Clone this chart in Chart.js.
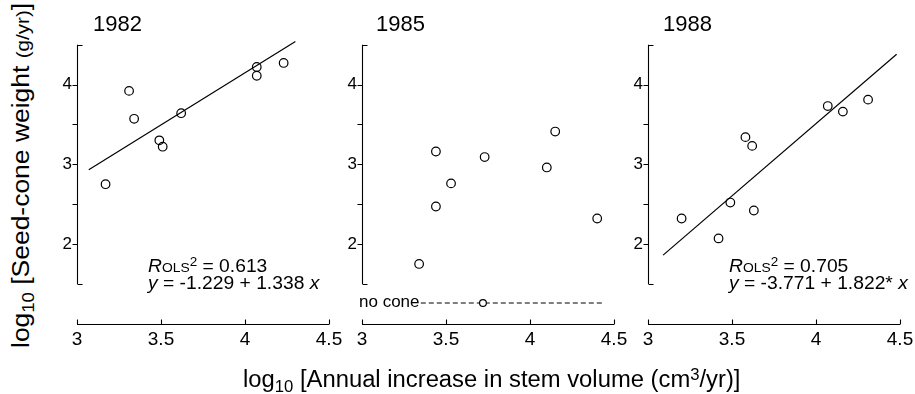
<!DOCTYPE html>
<html>
<head>
<meta charset="utf-8">
<script src="https://cdn.jsdelivr.net/npm/chart.js@4.4.0/dist/chart.umd.min.js"></script>
<style>
  body { margin: 0; background: #fff; width: 915px; height: 394px; overflow: hidden; position: relative;
         font-family: "Liberation Sans", Arial, Helvetica, sans-serif; color: #000; }
  canvas { position: absolute; top: 0; }
  .txt { position: absolute; white-space: nowrap; line-height: 1; }
  .year { font-size: 22px; top: 13px; }
  .fit { font-size: 18px; line-height: 15px; top: 259px; transform: scaleX(1.07); transform-origin: left top; }
  .fit .sm { font-size: 0.72em; }
  .fit sup { font-size: 0.7em; vertical-align: baseline; position: relative; top: -0.5em; }
  #xtitle { font-size: 23px; left: 243px; top: 368px; transform-origin: left top; transform: scaleX(1.035); }
  #ytitle { font-size: 23px; left: 10px; top: 348px; transform-origin: left top; transform: rotate(-90deg) scaleX(1.15); }
  .sub { font-size: 0.7em; vertical-align: baseline; position: relative; top: 0.3em; }
  .sup { font-size: 0.7em; vertical-align: baseline; position: relative; top: -0.45em; }
  #nocone { font-size: 17px; left: 359px; top: 293px; }
</style>
</head>
<body>
<canvas id="c1982" width="312" height="394" style="left:37px"></canvas>
<canvas id="c1985" width="312" height="394" style="left:322px"></canvas>
<canvas id="c1988" width="312" height="394" style="left:608px"></canvas>

<div class="txt year" style="left:93px">1982</div>
<div class="txt year" style="left:376px">1985</div>
<div class="txt year" style="left:663px">1988</div>

<div class="txt fit" style="left:148px"><i>R</i><span class="sm">OLS</span><sup>2</sup> = 0.613<br><i>y</i> = -1.229 + 1.338 <i>x</i></div>
<div class="txt fit" style="left:729px"><i>R</i><span class="sm">OLS</span><sup>2</sup> = 0.705<br><i>y</i> = -3.771 + 1.822* <i>x</i></div>
<div class="txt" id="nocone">no cone</div>

<div class="txt" id="ytitle">log<span class="sub">10</span> [Seed-cone weight <span style="font-size:0.78em">(g/yr)</span>]</div>
<div class="txt" id="xtitle">log<span class="sub">10</span> [Annual increase in stem volume (cm<span class="sup">3</span>/yr)]</div>

<script>
// 目盛り
const xTicks = [3, 3.5, 4, 4.5];
const yTicks = [2, 3, 4];
const yTickMarks = [1.5, 2, 2.5, 3, 3.5, 4, 4.5];

// 1982
const stem1982 = [3.17, 3.31, 3.34, 3.49, 3.51, 3.62, 4.07, 4.07, 4.23];
const cone1982 = [2.75, 3.92, 3.57, 3.30, 3.22, 3.64, 4.22, 4.11, 4.27];
const fitX1982 = [3.07, 4.30];
const fitY1982 = [2.93, 4.54];

// 1985 (回帰線なし)
const stem1985 = [3.34, 3.44, 3.44, 3.53, 3.73, 4.10, 4.15, 4.40];
const cone1985 = [1.75, 3.16, 2.47, 2.76, 3.09, 2.96, 3.41, 2.32];
const noConeStem = [3.72];
const noConeLevel = 1.26;
const noConeLineX = [3.35, 4.44];

// 1988
const stem1988 = [3.20, 3.42, 3.49, 3.58, 3.62, 3.63, 4.07, 4.16, 4.31];
const cone1988 = [2.32, 2.07, 2.52, 3.34, 3.23, 2.42, 3.73, 3.66, 3.81];
const fitX1988 = [3.09, 4.48];
const fitY1988 = [1.86, 4.38];

const FONT = '"Liberation Sans", Arial, Helvetica, sans-serif';

function toPoints(xs, ys) {
  return xs.map((x, i) => ({ x: x, y: ys[i] }));
}

// 軸線を描くプラグイン（範囲フレーム風）
const frameAxes = {
  id: 'frameAxes',
  afterDraw(chart) {
    const ctx = chart.ctx;
    const x = chart.scales.x, y = chart.scales.y;
    const t = 5;
    ctx.save();
    ctx.strokeStyle = '#000';
    ctx.lineWidth = 1.1;
    // y軸
    const ax = Math.round(x.left) + 0.5;
    const yTop = y.getPixelForValue(yTickMarks[yTickMarks.length - 1]);
    const yBot = y.getPixelForValue(yTickMarks[0]);
    ctx.beginPath();
    ctx.moveTo(ax, yTop);
    ctx.lineTo(ax, yBot);
    yTickMarks.forEach(function (v, i) {
      const py = Math.round(y.getPixelForValue(v)) + 0.5;
      const end = (i === 0 || i === yTickMarks.length - 1);
      ctx.moveTo(ax, py);
      ctx.lineTo(end ? ax + t : ax - t, py);
    });
    ctx.stroke();
    // x軸
    const ay = Math.round(y.bottom) + 0.5;
    ctx.beginPath();
    ctx.moveTo(x.getPixelForValue(xTicks[0]), ay);
    ctx.lineTo(x.getPixelForValue(xTicks[xTicks.length - 1]), ay);
    xTicks.forEach(function (v) {
      const px = Math.round(x.getPixelForValue(v)) + 0.5;
      ctx.moveTo(px, ay);
      ctx.lineTo(px, ay - t);
    });
    ctx.stroke();
    ctx.restore();
  }
};

function makePanel(id, datasets) {
  new Chart(document.getElementById(id), {
    type: 'scatter',
    data: { datasets: datasets },
    options: {
      responsive: false,
      animation: false,
      layout: { padding: { top: 36.65, bottom: 40.25, left: 0, right: 20 } },
      plugins: { legend: { display: false }, tooltip: { enabled: false } },
      scales: {
        x: {
          type: 'linear', min: 3, max: 4.5,
          grid: { display: false, drawTicks: false },
          border: { display: false },
          afterBuildTicks: function (s) { s.ticks = xTicks.map(v => ({ value: v })); },
          afterFit: function (s) { s.height = 30; },
          ticks: { color: '#000', padding: 5, maxRotation: 0, autoSkip: false,
                   font: { family: FONT, size: 19 }, callback: v => String(v) }
        },
        y: {
          type: 'linear', min: 1.0, max: 4.6,
          grid: { display: false, drawTicks: false },
          border: { display: false },
          afterBuildTicks: function (s) { s.ticks = yTicks.map(v => ({ value: v })); },
          afterFit: function (s) { s.width = 40; },
          ticks: { color: '#000', padding: 5, font: { family: FONT, size: 17 }, callback: v => String(v) }
        }
      }
    },
    plugins: [frameAxes]
  });
}

function pointSet(xs, ys, r, fill) {
  return {
    data: toPoints(xs, ys), order: 0, showLine: false,
    pointRadius: r, pointHoverRadius: r, pointBorderWidth: 1.2,
    pointBorderColor: '#000', pointBackgroundColor: fill
  };
}

function lineSet(xs, ys, dash) {
  return {
    data: toPoints(xs, ys), order: 1, showLine: true, pointRadius: 0,
    borderColor: '#000', borderWidth: 1.2, borderDash: dash || [], fill: false
  };
}

makePanel('c1982', [
  pointSet(stem1982, cone1982, 4.3, 'rgba(255,255,255,0)'),
  lineSet(fitX1982, fitY1982)
]);

makePanel('c1985', [
  pointSet(stem1985, cone1985, 4.3, 'rgba(255,255,255,0)'),
  pointSet(noConeStem, noConeStem.map(() => noConeLevel), 3.4, '#fff'),
  lineSet(noConeLineX, noConeLineX.map(() => noConeLevel), [5, 3])
]);

makePanel('c1988', [
  pointSet(stem1988, cone1988, 4.3, 'rgba(255,255,255,0)'),
  lineSet(fitX1988, fitY1988)
]);
</script>
</body>
</html>
